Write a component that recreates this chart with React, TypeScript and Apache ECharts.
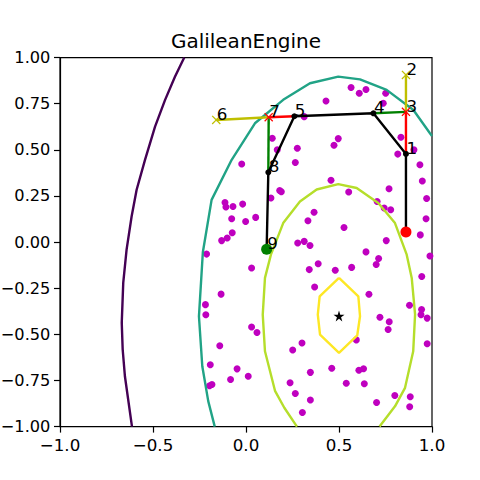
import React, { useEffect, useRef } from 'react';
import * as echarts from 'echarts';

const titleText = 'GalileanEngine';

const xTicks = [-1, -0.5, 0, 0.5, 1];
const xTickLabels = ['\u22121.0', '\u22120.5', '0.0', '0.5', '1.0'];
const yTicks = [-1, -0.75, -0.5, -0.25, 0, 0.25, 0.5, 0.75, 1];
const yTickLabels = ['\u22121.00', '\u22120.75', '\u22120.50', '\u22120.25', '0.00', '0.25', '0.50', '0.75', '1.00'];

// contour lines (outer to inner)
const contourPurple: [number, number][] = [
  [-0.332, 1.0], [-0.382, 0.896], [-0.435, 0.771], [-0.489, 0.626], [-0.543, 0.446],
  [-0.588, 0.284], [-0.615, 0.139], [-0.642, -0.041], [-0.66, -0.221], [-0.668, -0.438],
  [-0.663, -0.582], [-0.651, -0.727], [-0.613, -1.0],
];
const contourTeal: [number, number][] = [
  [-0.168, -1.0], [-0.203, -0.862], [-0.235, -0.673], [-0.253, -0.402], [-0.242, -0.221],
  [-0.232, -0.055], [-0.185, 0.229], [-0.077, 0.446], [0.048, 0.644], [0.2, 0.771],
  [0.344, 0.861], [0.496, 0.897], [0.613, 0.882], [0.756, 0.825], [0.9, 0.716],
  [0.989, 0.59], [1.0, 0.575],
];
const contourLime: [number, number][] = [
  [0.274, -1.0], [0.206, -0.898], [0.156, -0.806], [0.102, -0.592], [0.09, -0.393],
  [0.102, -0.194], [0.134, -0.068], [0.2, 0.103], [0.29, 0.22], [0.38, 0.285],
  [0.496, 0.314], [0.595, 0.293], [0.711, 0.212], [0.801, 0.103], [0.864, -0.068],
  [0.891, -0.194], [0.909, -0.392], [0.899, -0.592], [0.855, -0.79], [0.801, -0.89],
  [0.718, -1.0],
];
const contourYellow: [number, number][] = [
  [0.5, -0.194], [0.604, -0.294], [0.613, -0.402], [0.598, -0.506], [0.5, -0.6],
  [0.398, -0.502], [0.386, -0.393], [0.396, -0.294], [0.5, -0.194],
];

const optimum: [number, number] = [0.5, -0.4];

const samplePoints: [number, number][] = [
  [0.313, 0.68], [0.141, 0.563], [0.168, 0.5], [0.276, 0.509], [-0.023, 0.423], [0.265, 0.431],
  [0.181, 0.28], [0.19, 0.273], [0.134, 0.239], [-0.113, 0.215], [-0.108, 0.19], [-0.07, 0.193],
  [-0.018, 0.206], [-0.077, 0.127], [-0.002, 0.112], [0.052, 0.134], [-0.074, 0.051], [-0.101, 0.022],
  [-0.131, 0.008], [-0.212, -0.065], [0.333, 0.116], [0.366, 0.162], [0.278, -0.005], [0.313, 0.004],
  [0.344, -0.018], [0.565, 0.838], [0.609, 0.807], [0.645, 0.827], [0.751, 0.807], [0.43, 0.765],
  [0.738, 0.753], [0.496, 0.561], [0.473, 0.525], [0.833, 0.568], [0.816, 0.477], [0.903, 0.5],
  [0.935, 0.419], [0.457, 0.335], [0.552, 0.272], [0.769, 0.289], [0.948, 0.331], [0.971, 0.236],
  [0.705, 0.22], [0.743, 0.185], [0.778, 0.175], [0.968, 0.127], [0.527, 0.079], [0.937, 0.039],
  [0.754, 0.008], [0.645, -0.053], [0.713, -0.089], [0.7, -0.121], [0.989, -0.075], [0.03, -0.14],
  [0.34, -0.149], [0.388, -0.117], [0.48, -0.153], [0.568, -0.137], [0.945, -0.186], [0.369, -0.243],
  [0.661, -0.283], [-0.134, -0.282], [-0.218, -0.339], [-0.216, -0.394], [0.879, -0.342], [0.944, -0.365],
  [0.941, -0.394], [0.974, -0.412], [0.72, -0.407], [0.77, -0.432], [0.764, -0.474], [0.03, -0.46],
  [0.059, -0.49], [0.593, -0.53], [-0.141, -0.562], [0.301, -0.547], [0.251, -0.585], [0.974, -0.551],
  [-0.192, -0.665], [-0.048, -0.687], [0.012, -0.727], [-0.083, -0.745], [-0.196, -0.779], [-0.183, -0.772],
  [0.346, -0.706], [0.461, -0.684], [0.607, -0.695], [0.632, -0.686], [0.237, -0.762], [0.265, -0.821],
  [0.539, -0.765], [0.636, -0.768], [0.346, -0.856], [0.303, -0.924], [0.8, -0.831], [0.883, -0.838],
  [0.702, -0.869], [0.88, -0.892],
];

// search steps
const startPoint: [number, number] = [0.86, 0.055];
const stepLabels = ['1', '2', '3', '4', '5', '6', '7', '8', '9'];
const stepX = [0.86, 0.86, 0.86, 0.685, 0.26, -0.16, 0.122, 0.12, 0.111];
const stepY = [0.478, 0.906, 0.706, 0.698, 0.682, 0.662, 0.677, 0.378, -0.039];
const acceptedPath = ['start', '1', '4', '5', '8', '9'];
const redSegments = [['1', '3'], ['5', '7']];
const greenSegments = [['4', '3'], ['8', '7']];
const yellowSegments = [['3', '2'], ['7', '6']];
const redCrosses = ['3', '7'];
const yellowCrosses = ['2', '6'];

const pt = (name: string): [number, number] => {
  if (name === 'start') return startPoint;
  const i = stepLabels.indexOf(name);
  return [stepX[i], stepY[i]];
};

const FONT = "'DejaVu Sans', sans-serif";
const CROSS = 'path://M0,1L1,0L5,4L9,0L10,1L6,5L10,9L9,10L5,6L1,10L0,9L4,5Z';
const STAR = 'path://M50,0L61,35L98,35L68,57L79,91L50,70L21,91L32,57L2,35L39,35Z';
const LW = 2.4;

function lookup(ticks: number[], labels: string[], v: number) {
  let best = 0;
  for (let i = 0; i < ticks.length; i++) {
    if (Math.abs(ticks[i] - v) < Math.abs(ticks[best] - v)) best = i;
  }
  return labels[best];
}

export default function App() {
  const ref = useRef<HTMLDivElement>(null);
  useEffect(() => {
    document.body.style.margin = '0';
    const chart = echarts.init(ref.current!, null, { renderer: 'svg' });

    const contour = (data: [number, number][], color: string) => ({
      type: 'line',
      data,
      showSymbol: false,
      symbol: 'none',
      clip: true,
      silent: true,
      lineStyle: { color, width: LW },
    });
    const seg = (pair: string[], color: string) => ({
      type: 'line',
      data: [pt(pair[0]), pt(pair[1])],
      symbol: 'none',
      silent: true,
      lineStyle: { color, width: LW },
    });
    const dot = (data: [number, number][], color: string, size: number, symbol = 'circle') => ({
      type: 'line',
      data,
      symbol,
      symbolSize: size,
      showSymbol: true,
      showAllSymbol: true,
      silent: true,
      lineStyle: { width: 0, opacity: 0 },
      itemStyle: { color, opacity: 1, borderWidth: 0 },
    });

    const series: any[] = [
      contour(contourPurple, '#440154'),
      contour(contourTeal, '#21a386'),
      contour(contourLime, '#b5de2b'),
      contour(contourYellow, '#fde725'),
      {
        type: 'scatter',
        data: samplePoints,
        symbolSize: 7,
        silent: true,
        itemStyle: { color: '#bf00bf', opacity: 1 },
      },
      dot([optimum], '#000', 11, STAR),
      ...redSegments.map((p) => seg(p, '#ff0000')),
      ...greenSegments.map((p) => seg(p, '#008000')),
      ...yellowSegments.map((p) => seg(p, '#bfbf00')),
      {
        type: 'line',
        data: acceptedPath.map(pt),
        symbol: 'circle',
        symbolSize: 6,
        showSymbol: true,
        silent: true,
        lineStyle: { color: '#000', width: LW },
        itemStyle: { color: '#000', borderWidth: 0 },
      },
      dot(redCrosses.map(pt), '#ff0000', 9, CROSS),
      dot(yellowCrosses.map(pt), '#bfbf00', 9, CROSS),
      dot([startPoint], '#ff0000', 11),
      dot([pt('9')], '#008000', 11),
    ];

    const axisCommon = {
      type: 'value',
      min: -1,
      max: 1,
      splitLine: { show: false },
      axisLine: { show: true, onZero: false, lineStyle: { color: '#000', width: 1.2 } },
      axisTick: { show: true, length: 6, lineStyle: { color: '#000', width: 1.2 } },
    };

    chart.setOption({
      animation: false,
      backgroundColor: '#fff',
      grid: {
        left: 60,
        top: 57.6,
        width: 372,
        height: 369,
        containLabel: false,
        outerBoundsMode: 'none',
        show: true,
        borderColor: '#000',
        borderWidth: 1.2,
        backgroundColor: 'transparent',
      },
      xAxis: {
        ...axisCommon,
        interval: 0.5,
        axisLabel: {
          color: '#000',
          fontFamily: FONT,
          fontSize: 16.7,
          margin: 10,
          formatter: (v: number) => lookup(xTicks, xTickLabels, v),
        },
      },
      yAxis: {
        ...axisCommon,
        interval: 0.25,
        axisLabel: {
          color: '#000',
          fontFamily: FONT,
          fontSize: 16.2,
          margin: 9.6,
          formatter: (v: number) => lookup(yTicks, yTickLabels, v),
        },
      },
      series,
    });

    const graphics: any[] = [
      {
        type: 'text',
        x: 246,
        y: 40.6,
        z: 100,
        style: {
          text: titleText,
          fill: '#000',
          fontFamily: FONT,
          fontSize: 20,
          align: 'center',
          verticalAlign: 'middle',
        },
      },
    ];
    stepLabels.forEach((l, i) => {
      const p = chart.convertToPixel({ gridIndex: 0 }, [stepX[i], stepY[i]]) as number[];
      graphics.push({
        type: 'text',
        x: p[0] + 0.5,
        y: p[1] - 6,
        z: 100,
        style: {
          text: l,
          fill: '#000',
          fontFamily: FONT,
          fontSize: 16.7,
          align: 'left',
          verticalAlign: 'middle',
        },
      });
    });
    chart.setOption({ graphic: graphics });

    return () => chart.dispose();
  }, []);
  return <div ref={ref} style={{ width: 480, height: 480 }} />;
}
